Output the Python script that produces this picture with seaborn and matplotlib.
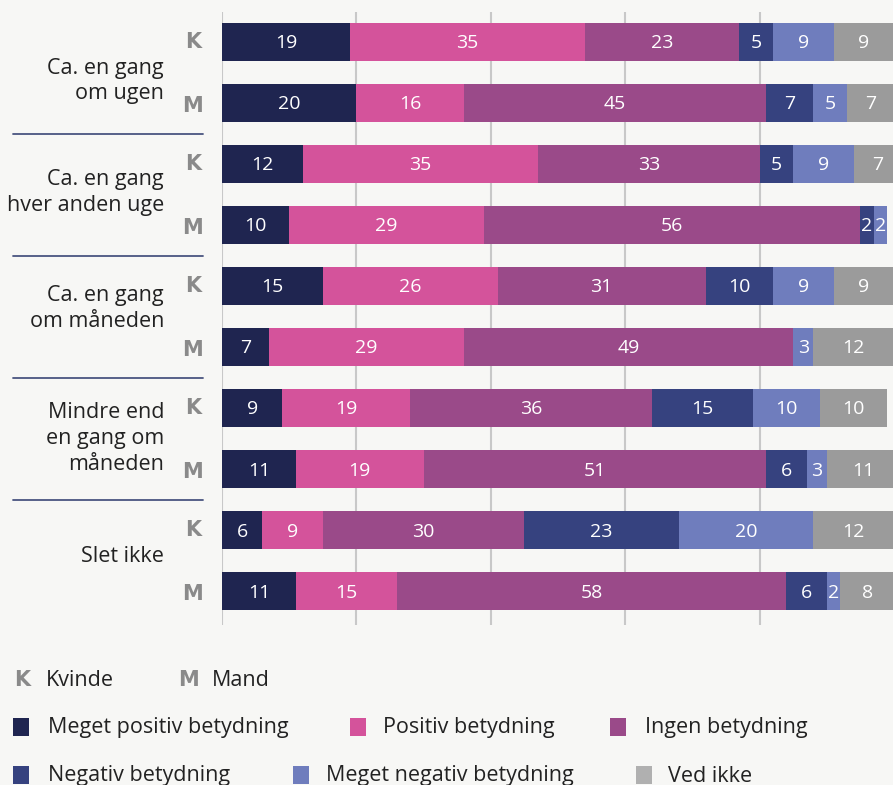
import numpy as np
import pandas as pd
import matplotlib.pyplot as plt
import seaborn as sns
from matplotlib.patches import Rectangle

# data
groups = ["Ca. en gang\nom ugen", "Ca. en gang\nhver anden uge", "Ca. en gang\nom måneden",
          "Mindre end\nen gang om\nmåneden", "Slet ikke"]
gender = ["K", "M"] * 5
categories = ["Meget positiv betydning", "Positiv betydning", "Ingen betydning",
              "Negativ betydning", "Meget negativ betydning", "Ved ikke"]
meget_positiv = [19, 20, 12, 10, 15, 7, 9, 11, 6, 11]
positiv = [35, 16, 35, 29, 26, 29, 19, 19, 9, 15]
ingen = [23, 45, 33, 56, 31, 49, 36, 51, 30, 58]
negativ = [5, 7, 5, 2, 10, 0, 15, 6, 23, 6]
meget_negativ = [9, 5, 9, 2, 9, 3, 10, 3, 20, 2]
ved_ikke = [9, 7, 7, 0, 9, 12, 10, 11, 12, 8]

colors = ["#1f2550", "#d4539b", "#9a4a89", "#36427f", "#6f7dbd", "#9b9b9b"]
legend_colors = ["#1f2550", "#d4539b", "#9a4a89", "#36427f", "#6f7dbd", "#b0b0b0"]
bg = "#f7f7f5"

sns.set_theme(style="white")
plt.rcParams["font.family"] = ["Open Sans", "DejaVu Sans"]

vals = np.array([meget_positiv, positiv, ingen, negativ, meget_negativ, ved_ikke]).T
cum = vals.cumsum(axis=1)
rows = [f"r{i}" for i in range(len(gender))]

fig = plt.figure(figsize=(8.93, 7.85), dpi=100)
fig.patch.set_facecolor(bg)
ax = fig.add_axes([222 / 893, 1 - 625 / 785, 672 / 893, (625 - 12) / 785])
ax.set_facecolor(bg)

# stacked bars: draw cumulative totals from the back
for j in reversed(range(len(categories))):
    df = pd.DataFrame({"row": rows, "val": cum[:, j]})
    sns.barplot(data=df, x="val", y="row", orient="h", color=colors[j], saturation=1,
                width=0.62, linewidth=0, ax=ax, zorder=2)

ax.set_xlim(0, 100)
ax.set_ylim(9.55, -0.49)
ax.set_xticks([0, 20, 40, 60, 80])
ax.grid(axis="x", color="#c8c8c8", lw=1.5)
ax.set_axisbelow(True)
ax.tick_params(left=False, bottom=False, labelleft=False, labelbottom=False)
ax.set_xlabel("")
ax.set_ylabel("")
for s in ax.spines.values():
    s.set_visible(False)

# value labels
for i in range(len(rows)):
    for j in range(len(categories)):
        v = vals[i, j]
        c = cum[i, j] - v / 2
        if v > 0 and c < 100:
            ax.text(c, i + 0.02, str(v), ha="center", va="center", color="white", fontsize=14, zorder=3)

# K / M and group labels
km_font = dict(color="#8a8a8a", fontsize=15, fontweight="bold", family="DejaVu Sans")
tr = ax.get_yaxis_transform()
for i, g in enumerate(gender):
    ax.text(-29 / 672, i + (0.05 if g == "M" else 0), g, transform=tr, ha="center", va="center",
            clip_on=False, **km_font)
label_shift = [0.14, -0.03, -0.13, 0.0, -0.08]
for k, g in enumerate(groups):
    ax.text(-58 / 672, 2 * k + 0.5 + label_shift[k], g, transform=tr, ha="right", va="center",
            color="#222222", fontsize=15.5, linespacing=1.3, clip_on=False)
for k in range(4):
    ax.plot([-209 / 672, -19 / 672], [2 * k + 1.5] * 2, transform=tr, color="#4a5580",
            lw=1.3, clip_on=False)

# legend
fig.text(14 / 893, 1 - 680 / 785, "K", va="center", **km_font)
fig.text(46 / 893, 1 - 680 / 785, "Kvinde", color="#222222", fontsize=15.5, va="center")
fig.text(178 / 893, 1 - 680 / 785, "M", va="center", **km_font)
fig.text(212 / 893, 1 - 680 / 785, "Mand", color="#222222", fontsize=15.5, va="center")

leg_pos = [(13, 48, 727), (350, 383, 727), (610, 645, 727),
           (13, 48, 775), (293, 326, 775), (636, 668, 775)]
for (sx, tx, y), name, col in zip(leg_pos, categories, legend_colors):
    fig.patches.append(Rectangle((sx / 893, 1 - (y + 9) / 785), 16 / 893, 18 / 785,
                                 transform=fig.transFigure, color=col, lw=0))
    fig.text(tx / 893, 1 - (y + 1) / 785, name, color="#222222", fontsize=15.5, va="center")

fig.savefig("out.png", dpi=100, facecolor=fig.get_facecolor())
